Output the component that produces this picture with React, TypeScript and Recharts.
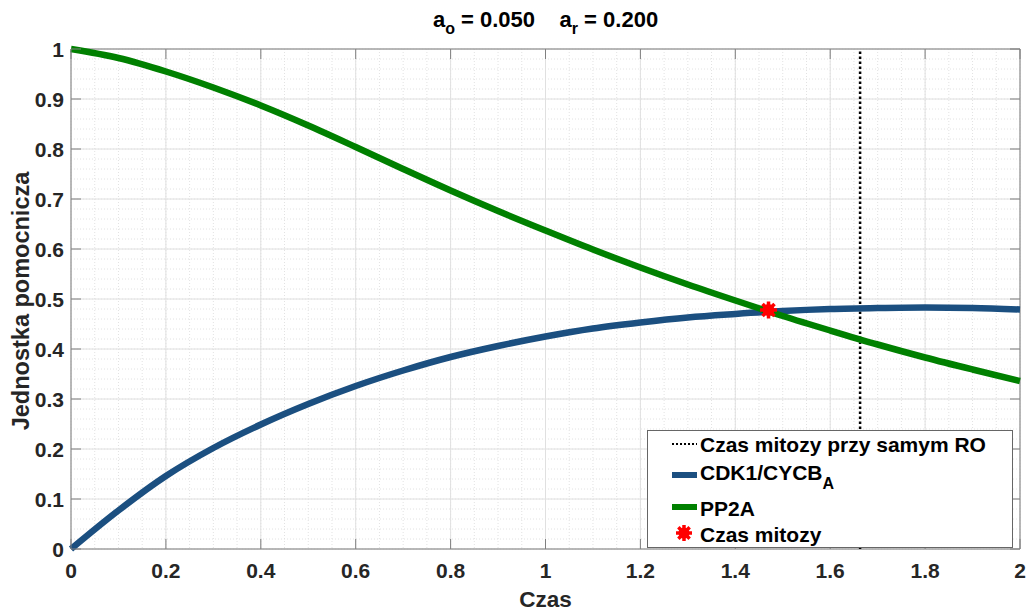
import {
  ComposedChart,
  Line,
  Scatter,
  XAxis,
  YAxis,
  CartesianGrid,
  ReferenceLine,
  ReferenceArea,
  Legend,
} from "recharts";

// czas (oś X) i przebiegi
const czas = [0, 0.1, 0.2, 0.3, 0.4, 0.5, 0.6, 0.7, 0.8, 0.9, 1.0, 1.1, 1.2, 1.3, 1.4, 1.5, 1.6, 1.7, 1.8, 1.9, 2.0];
const cdk1 = [0, 0.077, 0.146, 0.202, 0.249, 0.29, 0.326, 0.357, 0.384, 0.406, 0.425, 0.441, 0.453, 0.463, 0.47, 0.476, 0.48, 0.482, 0.483, 0.482, 0.479];
const pp2a = [1, 0.982, 0.955, 0.923, 0.887, 0.847, 0.804, 0.76, 0.717, 0.676, 0.637, 0.599, 0.563, 0.529, 0.497, 0.466, 0.437, 0.409, 0.383, 0.359, 0.336];

// punkt mitozy i czas mitozy przy samym RO
const mitoza = [{ x: 1.47, y: 0.478 }];
const czasMitozyRO = 1.663;

const xTicks = [0, 0.2, 0.4, 0.6, 0.8, 1, 1.2, 1.4, 1.6, 1.8, 2];
const yTicks = [0, 0.1, 0.2, 0.3, 0.4, 0.5, 0.6, 0.7, 0.8, 0.9, 1];

const data = czas.map((x, i) => ({ x, cdk: cdk1[i], pp2a: pp2a[i] }));

// siatka pomocnicza (minor grid)
const minorX = Array.from({ length: 41 }, (_, i) => i * 0.05);
const minorY = Array.from({ length: 51 }, (_, i) => i * 0.02);

const FONT = '"Liberation Sans", Arial, Helvetica, sans-serif';
const W = 1029;
const H = 612;
const MT = 49;
const MR = 9;
const AXW = 71;
const AXH = 63;
const TICK = 10;
const AXIS = "#808080";
const TXT = "#262626";
const BLUE = "#1b4f80";
const GREEN = "#008000";
const RED = "#ff0000";

function XTick(props: any) {
  const { x, y, payload } = props;
  return (
    <g>
      <line x1={x} y1={y} x2={x} y2={y - TICK} stroke={AXIS} />
      <line x1={x} y1={MT} x2={x} y2={MT + TICK} stroke={AXIS} />
      <text x={x} y={y + 29} textAnchor="middle" fill={TXT} fontFamily={FONT} fontWeight="bold" fontSize={21}>
        {String(payload.value)}
      </text>
    </g>
  );
}

function YTick(props: any) {
  const { x, y, payload } = props;
  return (
    <g>
      <line x1={x} y1={y} x2={x + TICK} y2={y} stroke={AXIS} />
      <line x1={W - MR} y1={y} x2={W - MR - TICK} y2={y} stroke={AXIS} />
      <text x={x - 7} y={y + 7.5} textAnchor="end" fill={TXT} fontFamily={FONT} fontWeight="bold" fontSize={21}>
        {String(payload.value)}
      </text>
    </g>
  );
}

function Star({ cx, cy, r = 8.5 }: { cx: number; cy: number; r?: number }) {
  const spokes = [0, 45, 90, 135].map((a) => {
    const rad = (a * Math.PI) / 180;
    return (
      <line
        key={a}
        x1={cx - r * Math.cos(rad)}
        y1={cy - r * Math.sin(rad)}
        x2={cx + r * Math.cos(rad)}
        y2={cy + r * Math.sin(rad)}
        stroke={RED}
        strokeWidth={3.5}
      />
    );
  });
  return (
    <g>
      <circle cx={cx} cy={cy} r={r - 2.5} fill={RED} />
      {spokes}
    </g>
  );
}

function LegendBox() {
  const txt = { fontFamily: FONT, fontWeight: "bold" as const, fontSize: 21, fill: "#000" };
  return (
    <svg width={366} height={118} style={{ display: "block" }}>
      <rect x={0.5} y={0.5} width={365} height={117} fill="#fff" stroke="#666" />
      <line x1={25} y1={14} x2={50} y2={14} stroke="#000" strokeWidth={2} strokeDasharray="2 2" />
      <text x={53} y={22} {...txt}>Czas mitozy przy samym RO</text>
      <line x1={25} y1={45} x2={50} y2={45} stroke={BLUE} strokeWidth={6} />
      <text x={53} y={50} {...txt}>
        CDK1/CYCB
        <tspan dy={9} fontSize={16}>A</tspan>
      </text>
      <line x1={25} y1={77} x2={50} y2={77} stroke={GREEN} strokeWidth={6} />
      <text x={53} y={86} {...txt}>PP2A</text>
      <Star cx={37} cy={103} r={8} />
      <text x={53} y={112} {...txt}>Czas mitozy</text>
    </svg>
  );
}

export default function App() {
  return (
    <div style={{ position: "absolute", left: 0, top: 0, width: W, height: H, background: "#fff" }}>
      <div
        style={{
          position: "absolute",
          left: AXW,
          top: 9,
          width: W - AXW - MR,
          textAlign: "center",
          fontFamily: FONT,
          fontWeight: "bold",
          fontSize: 22,
          lineHeight: "22px",
          color: "#000",
          whiteSpace: "pre",
          zIndex: 2,
        }}
      >
        a<span style={{ fontSize: 16, position: "relative", top: 7 }}>o</span> = 0.050{"    "}a
        <span style={{ fontSize: 16, position: "relative", top: 7 }}>r</span> = 0.200
      </div>
      <ComposedChart width={W} height={H} data={data} margin={{ top: MT, right: MR, bottom: 0, left: 0 }}>
        <CartesianGrid
          horizontalValues={minorY}
          verticalValues={minorX}
          stroke="#e2e2e2"
          strokeDasharray="1 2"
        />
        <CartesianGrid stroke="#e0e0e0" />
        <XAxis
          dataKey="x"
          type="number"
          domain={[0, 2]}
          ticks={xTicks}
          height={AXH}
          tickSize={0}
          tickMargin={0}
          axisLine={false}
          tickLine={false}
          tick={<XTick />}
          interval={0}
          label={{
            content: (p: any) => (
              <text
                x={p.viewBox.x + p.viewBox.width / 2}
                y={p.viewBox.y + 57.5}
                textAnchor="middle"
                fill={TXT}
                fontFamily={FONT}
                fontWeight="bold"
                fontSize={22.5}
              >
                Czas
              </text>
            ),
          }}
        />
        <YAxis
          type="number"
          domain={[0, 1]}
          ticks={yTicks}
          width={AXW}
          tickSize={0}
          tickMargin={0}
          axisLine={false}
          tickLine={false}
          tick={<YTick />}
          interval={0}
          label={{
            content: (p: any) => {
              const cy = p.viewBox.y + p.viewBox.height / 2 + 2;
              return (
                <text
                  x={29}
                  y={cy}
                  transform={`rotate(-90 29 ${cy})`}
                  textAnchor="middle"
                  fill={TXT}
                  fontFamily={FONT}
                  fontWeight="bold"
                  fontSize={23.5}
                >
                  Jednostka pomocnicza
                </text>
              );
            },
          }}
        />
        <ReferenceArea x1={0} x2={2} y1={0} y2={1} fill="none" stroke={AXIS} strokeWidth={1} />
        <ReferenceLine x={czasMitozyRO} stroke="#000" strokeWidth={2.5} strokeDasharray="2.5 2.5" />
        <Line
          dataKey="cdk"
          name="CDK1/CYCB_A"
          type="monotone"
          stroke={BLUE}
          strokeWidth={6.5}
          dot={false}
          isAnimationActive={false}
        />
        <Line
          dataKey="pp2a"
          name="PP2A"
          type="monotone"
          stroke={GREEN}
          strokeWidth={6.5}
          dot={false}
          isAnimationActive={false}
        />
        <Scatter
          data={mitoza}
          dataKey="y"
          name="Czas mitozy"
          shape={(p: any) => <Star cx={p.cx} cy={p.cy} />}
          isAnimationActive={false}
        />
        <Legend
          layout="vertical"
          align="center"
          verticalAlign="middle"
          wrapperStyle={{ position: "absolute", left: 647, top: 430, width: 366, height: 118 }}
          content={() => <LegendBox />}
        />
      </ComposedChart>
    </div>
  );
}
